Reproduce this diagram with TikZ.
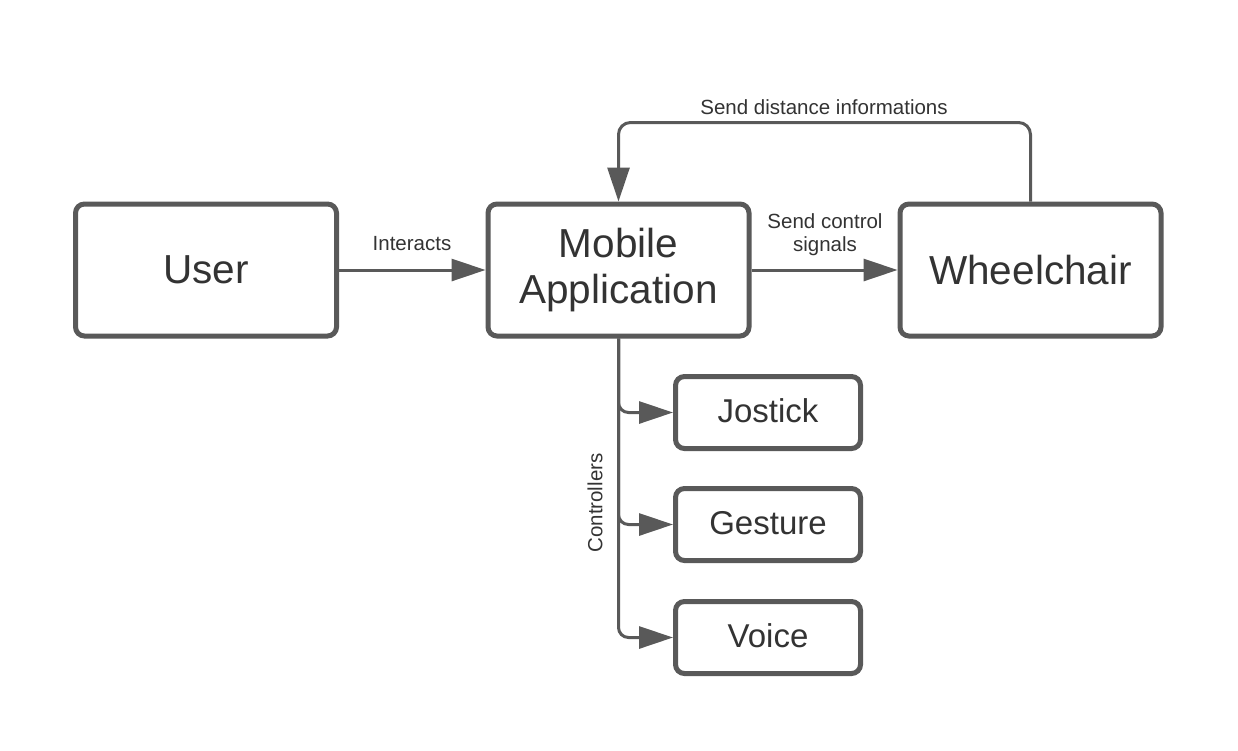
\documentclass[tikz,border=0pt]{standalone}
\usepackage{fontspec}
\setmainfont{Liberation Sans}
\usetikzlibrary{arrows.meta,calc}
\definecolor{linegray}{HTML}{595959}
\definecolor{textgray}{HTML}{333333}
\begin{document}
\begin{tikzpicture}[x=1pt,y=-1pt,
  bigbox/.style={draw=linegray, line width=5pt, rounded corners=9pt, fill=white,
    minimum width=261pt, minimum height=132pt, inner sep=0pt, align=center,
    text=textgray, font=\fontsize{40.5}{47}\selectfont},
  smallbox/.style={draw=linegray, line width=5pt, rounded corners=9pt, fill=white,
    minimum width=185pt, minimum height=72pt, inner sep=0pt, align=center,
    text=textgray, font=\fontsize{33}{38}\selectfont},
  conn/.style={draw=linegray, line width=3pt, -{Triangle[length=34pt,width=22pt]}},
  lbl/.style={text=textgray, font=\fontsize{20.5}{23}\selectfont, align=center, inner sep=0pt}
]
\fill[white] (0,0) rectangle (1238,750);
\useasboundingbox (0,0) rectangle (1238,750);

\node[bigbox] (user) at (206,270) {User};
\node[bigbox] (mobile) at (618.5,270) {Mobile\\[-1pt]Application};
\node[bigbox] (wheel) at (1030.5,270) {Wheelchair};
\node[smallbox] (jostick) at (768,412.5) {\raisebox{4pt}{Jostick}};
\node[smallbox] (gesture) at (768,524.5) {\raisebox{4pt}{Gesture}};
\node[smallbox] (voice) at (768,637.5) {\raisebox{4pt}{Voice}};

\draw[conn] (user.east) -- (mobile.west);
\node[lbl] (linteracts) at (412,244) {Interacts};

\draw[conn] (mobile.east) -- (wheel.west);
\node[lbl] (lsend) at (825,235) {Send control\\signals};

\draw[conn, rounded corners=12pt] (wheel.north) -- ++(0,-79) -| (mobile.north);
\node[lbl] (ldist) at (824,107) {Send distance informations};

\draw[conn, rounded corners=10pt] (mobile.south) |- (jostick.west);
\draw[conn, rounded corners=10pt] (mobile.south) |- (gesture.west);
\draw[conn, rounded corners=10pt] (mobile.south) |- (voice.west);
\node[lbl, rotate=90] (lctrl) at (595,503) {Controllers};
\end{tikzpicture}
\end{document}
